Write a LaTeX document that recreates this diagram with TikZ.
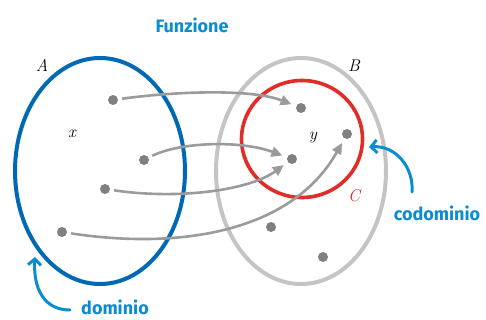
\documentclass[tikz,border=0pt]{standalone}
\usepackage{fontspec}
\usetikzlibrary{arrows.meta,shapes.geometric}
\newfontfamily\handfont{Fira Sans}
\definecolor{setblue}{RGB}{0,105,180}
\definecolor{notblue}{RGB}{10,140,210}
\definecolor{setred}{RGB}{225,45,40}
\definecolor{setgray}{RGB}{196,196,196}
\definecolor{dotgray}{RGB}{128,128,128}
\definecolor{arrgray}{RGB}{155,155,155}
\tikzset{
  pt/.style={circle,fill=dotgray,minimum size=10pt,inner sep=0pt},
  maparrow/.style={draw=arrgray,line width=2.6pt,shorten <=4pt,shorten >=5pt,
    -{Triangle[length=11pt,width=10pt]}},
  note/.style={text=notblue,anchor=base,inner sep=1pt,
    font=\handfont\bfseries\fontsize{18}{21}\selectfont},
  notearrow/.style={draw=notblue,line width=3pt,line cap=round,
    -{Straight Barb[length=6pt,width=13pt,line width=3pt]}},
  setlabel/.style={font=\fontsize{17}{20}\selectfont\itshape},
}
\begin{document}
\begin{tikzpicture}[x=1pt,y=-1pt]
\useasboundingbox (0,0) rectangle (486,320);
% sets
\node[draw=setblue,line width=4pt,ellipse,minimum width=170pt,minimum height=226pt,inner sep=0pt] (A) at (100,171) {};
\node[draw=setgray,line width=4pt,ellipse,minimum width=170pt,minimum height=226pt,inner sep=0pt] (B) at (301,171) {};
\node[draw=setred,line width=3.6pt,ellipse,minimum width=121pt,minimum height=117pt,inner sep=0pt] (C) at (302,139) {};
% labels
\node[setlabel] (lA) at (42,65) {A};
\node[setlabel] (lB) at (354,66) {B};
\node[setlabel,text=setred] (lC) at (354,196) {C};
\node[setlabel] (lx) at (72,134) {x};
\node[setlabel] (ly) at (313,137) {y};
% elements of A
\node[pt] (a1) at (113,100) {};
\node[pt] (a2) at (144,160) {};
\node[pt] (a3) at (105,189) {};
\node[pt] (a4) at (62,232) {};
% elements of B
\node[pt] (b1) at (301,108) {};
\node[pt] (b2) at (347,134) {};
\node[pt] (b3) at (292,159) {};
\node[pt] (b4) at (271,227) {};
\node[pt] (b5) at (323,257) {};
% mapping arrows
\draw[maparrow] (a1) .. controls (170,92) and (250,88) .. (b1);
\draw[maparrow] (a2) .. controls (180,142) and (240,140) .. (b3);
\draw[maparrow] (a3) .. controls (180,200) and (250,190) .. (b3);
\draw[maparrow] (a4) .. controls (180,250) and (292,232) .. (b2);
% annotations
\node[note] (fun) at (192,33) {Funzione};
\node[note] (dom) at (115,314) {dominio};
\node[note] (cod) at (437,220) {codominio};
\coordinate (domtip) at (35,257);
\coordinate (domstart) at (70,310);
\coordinate (codtip) at (369,147);
\coordinate (codstart) at (412,192);
\draw[notearrow] (domstart) .. controls (45,310) and (33,290) .. (domtip);
\draw[notearrow] (codstart) .. controls (414,168) and (396,145) .. (codtip);
\end{tikzpicture}
\end{document}
